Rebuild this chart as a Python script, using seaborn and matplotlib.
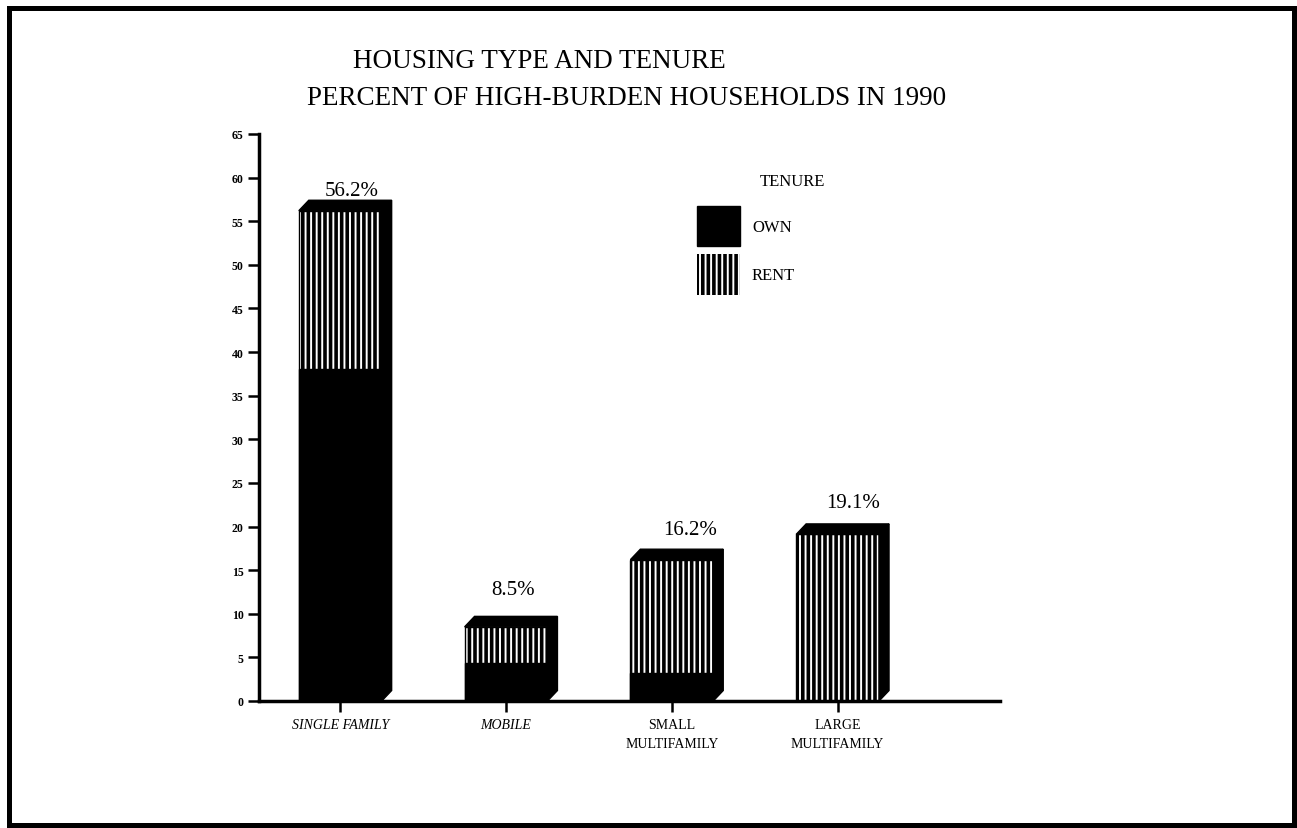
import matplotlib
matplotlib.use("Agg")
import matplotlib.pyplot as plt
from matplotlib.patches import Patch, Polygon, Rectangle
import seaborn as sns
import pandas as pd

# Share of high-burden households (%) by housing type, split by tenure
categories = ["SINGLE FAMILY", "MOBILE", "SMALL\nMULTIFAMILY", "LARGE\nMULTIFAMILY"]
total_pct = [56.2, 8.5, 16.2, 19.1]
own_pct = [38.0, 4.3, 3.2, 0.0]
y_ticks = list(range(0, 70, 5))
tenure_labels = ["OWN", "RENT"]

sns.set_theme(style="white")
plt.rcParams["font.family"] = ["Liberation Serif", "DejaVu Serif"]
plt.rcParams["hatch.linewidth"] = 2.6
plt.rcParams["hatch.color"] = "black"
plt.rcParams["text.color"] = "black"
plt.rcParams["xtick.color"] = "black"
plt.rcParams["ytick.color"] = "black"
plt.rcParams["axes.labelcolor"] = "black"

df = pd.DataFrame({"type": categories, "total": total_pct, "own": own_pct})
df["rent"] = df["total"] - df["own"]

fig = plt.figure(figsize=(12.97, 8.29), dpi=100)
ax = fig.add_axes([0.1997, 0.1532, 0.5714, 0.684])

# Full bar (rent pattern), then the owner share stacked from the base
sns.barplot(data=df, x="type", y="total", color="white", saturation=1,
            width=0.5, edgecolor="black", linewidth=1, hatch="|||", ax=ax)
n_bars = len(ax.patches)
sns.barplot(data=df, x="type", y="own", color="black", saturation=1,
            width=0.5, edgecolor="black", linewidth=1, ax=ax)

# Pseudo-3D block: top and right-hand faces
depth_x, depth_y = 0.06, 1.2
for p in ax.patches[:n_bars]:
    x0, w, h = p.get_x(), p.get_width(), p.get_height()
    top = Polygon([(x0, h), (x0 + w, h), (x0 + w + depth_x, h + depth_y),
                   (x0 + depth_x, h + depth_y)], closed=True,
                  facecolor="black", edgecolor="black", lw=1, zorder=3)
    side = Polygon([(x0 + w, 0), (x0 + w + depth_x, depth_y),
                    (x0 + w + depth_x, h + depth_y), (x0 + w, h)], closed=True,
                   facecolor="black", edgecolor="black", lw=1, zorder=3)
    ax.add_patch(top)
    ax.add_patch(side)

# Value labels above each block
label_shift = [(4.3, 3.6), (1.4, 15.8), (9.4, 10.8), (7.9, 12.2)]
for p, v, (sx, sy) in zip(ax.patches[:n_bars], total_pct, label_shift):
    cx = p.get_x() + p.get_width() / 2 + depth_x / 2
    ax.annotate(f"{v:.1f}%", xy=(cx, p.get_height() + depth_y),
                xytext=(sx, sy), textcoords="offset points",
                ha="center", va="baseline", fontsize=15, color="black")

ax.set_xlim(-0.49, 3.98)
ax.set_ylim(0, 65)
ax.set_yticks(y_ticks)
ax.set_xlabel("")
ax.set_ylabel("")
sns.despine(ax=ax)
for side_name in ("left", "bottom"):
    ax.spines[side_name].set_linewidth(2.5)
    ax.spines[side_name].set_color("black")

ax.tick_params(axis="y", left=True, direction="out", length=8, width=1.8,
               labelsize=8.5, pad=3)
ax.tick_params(axis="x", bottom=True, direction="out", length=8, width=1.8,
               labelsize=10, pad=4)
for lab in ax.get_yticklabels():
    lab.set_fontweight("bold")
ax.set_xticks(range(len(categories)))
ax.set_xticklabels(categories, linespacing=1.6)
for i, lab in enumerate(ax.get_xticklabels()):
    if i < 2:
        lab.set_fontstyle("italic")

# Legend
handles = [Patch(facecolor="black", edgecolor="black"),
           Patch(facecolor="white", edgecolor="black", hatch="|||", linewidth=0)]
ax.legend(handles, tenure_labels, loc="upper left",
          bbox_to_anchor=(697 / 1297, 1 - 207 / 829), bbox_transform=fig.transFigure,
          frameon=False, fontsize=12, handlelength=2.58, handleheight=3.34,
          handletextpad=0.72, labelspacing=0.48, borderpad=0, borderaxespad=0)
fig.text(760 / 1297, 1 - 186 / 829, "TENURE", fontsize=12, va="baseline")

# Titles
fig.text(353 / 1297, 1 - 68 / 829, "HOUSING TYPE AND TENURE",
         ha="left", va="baseline", fontsize=19.5)
fig.text(307 / 1297, 1 - 105 / 829, "PERCENT OF HIGH-BURDEN HOUSEHOLDS IN 1990",
         ha="left", va="baseline", fontsize=19.5)

# Page frame
fig.add_artist(Rectangle((0.00694, 0.00362), 0.99075, 0.98552, transform=fig.transFigure,
                         fill=False, edgecolor="black", lw=3.6))

fig.savefig("out.png", dpi=100)
